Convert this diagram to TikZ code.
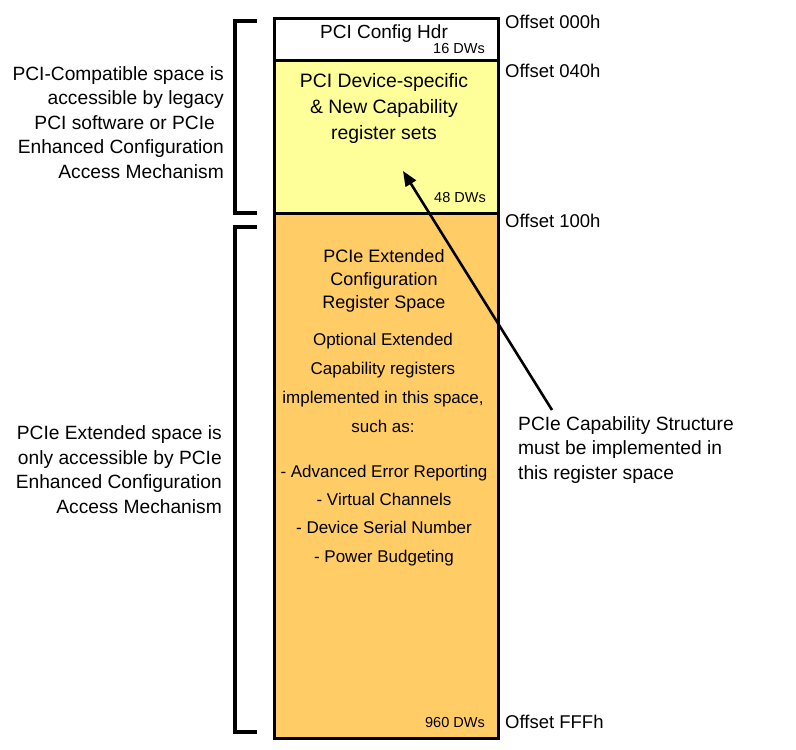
\documentclass[tikz,border=0pt]{standalone}
\usepackage{fontspec}
\setmainfont{Liberation Sans}
\usetikzlibrary{arrows.meta}
\definecolor{cfgyellow}{HTML}{FFFF99}
\definecolor{cfgorange}{HTML}{FFCC66}
\begin{document}
\begin{tikzpicture}[x=1pt,y=-1pt,
  region/.style={draw=black, line width=3pt, inner sep=0pt, anchor=north west, minimum width=224pt},
  txt/.style={inner sep=0pt, text=black},
  dwlbl/.style={txt, anchor=base east, font=\fontsize{14.5}{17}\selectfont},
  offlbl/.style={txt, anchor=base west, font=\fontsize{18.5}{22}\selectfont},
  sidelbl/.style={txt, font=\fontsize{19.2}{24.5}\selectfont},
  bracket/.style={line width=4.5pt, line cap=butt, line join=miter},
  pointer/.style={line width=2.6pt, -{Triangle[length=15pt,width=12pt]}}
]
\useasboundingbox (0,0) rectangle (796,750);

% regions
\node[region, fill=cfgorange, minimum height=525pt] (ext) at (273,212) {};
\node[region, fill=cfgyellow, minimum height=153pt] (pci) at (273,59) {};
\node[region, fill=white, minimum height=42pt] (hdr) at (273,17) {};

% texts in regions (multi-line nodes: base = last line's baseline)
\node[txt, anchor=base, font=\fontsize{19}{24}\selectfont] (hdrt) at (384,38) {PCI Config Hdr};
\node[dwlbl] (hdrdw) at (485,53) {16 DWs};
\node[txt, anchor=base, align=center, font=\fontsize{19.4}{26}\selectfont] (pcit) at (384,139)
  {PCI Device-specific\\\& New Capability\\register sets};
\node[dwlbl] (pcidw) at (486,202) {48 DWs};
\node[txt, anchor=base, align=center, font=\fontsize{18}{23}\selectfont] (extt) at (384,308)
  {PCIe Extended\\Configuration\\Register Space};
\node[txt, anchor=base, align=center, font=\fontsize{17}{29}\selectfont] (extopt) at (383,432)
  {Optional Extended\\Capability registers\\implemented in this space,\\such as:};
\node[txt, anchor=base, align=center, font=\fontsize{17}{28.3}\selectfont] (extlist) at (384,562)
  {- Advanced Error Reporting\\- Virtual Channels\\- Device Serial Number\\- Power Budgeting};
\node[dwlbl] (extdw) at (485,727) {960 DWs};

% offsets
\node[offlbl] (off0) at (505,28) {Offset 000h};
\node[offlbl] (off1) at (505,77) {Offset 040h};
\node[offlbl] (off2) at (505,227) {Offset 100h};
\node[offlbl] (off3) at (505,728) {Offset FFFh};

% side texts
\node[sidelbl, anchor=base east, align=right] (compat) at (224,178)
  {PCI-Compatible space is\\accessible by legacy\\PCI software or PCIe\kern9pt\\Enhanced Configuration\\Access Mechanism};
\node[sidelbl, anchor=base east, align=right] (extsp) at (222,513)
  {PCIe Extended space is\\only accessible by PCIe\\Enhanced Configuration\\Access Mechanism};
\node[sidelbl, anchor=base west, align=left] (capst) at (518,479)
  {PCIe Capability Structure\\must be implemented in\\this register space};

% brackets
\draw[bracket] (257,21) -- (235,21) -- (235,213) -- (257,213);
\draw[bracket] (257,227) -- (235,227) -- (235,732) -- (257,732);

% pointer
\coordinate (astart) at (552,410);
\coordinate (atip) at (403,171);
\draw[pointer] (astart) -- (atip);
\end{tikzpicture}
\end{document}
